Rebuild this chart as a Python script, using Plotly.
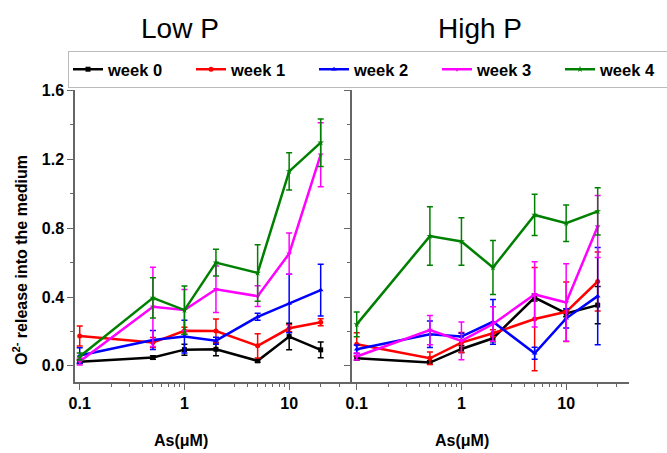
import plotly.graph_objects as go

# ---------------- data ----------------
as_conc = [0.1, 0.5, 1, 2, 5, 10, 20]
weeks = ["week 0", "week 1", "week 2", "week 3", "week 4"]
colors = ["#000000", "#ff0000", "#0000ff", "#ff00ff", "#008000"]
symbols = ["square", "circle", "triangle-up", "triangle-down", "star"]

# Low P
low_w0 = [0.024, 0.048, 0.094, 0.096, 0.029, 0.170, 0.093]
low_w1 = [0.173, 0.135, 0.204, 0.202, 0.116, 0.218, 0.253]
low_w2 = [0.060, 0.150, 0.170, 0.146, 0.285, 0.362, 0.440]
low_w3 = [0.025, 0.343, 0.324, 0.445, 0.405, 0.652, 1.227]
low_w4 = [0.054, 0.395, 0.324, 0.600, 0.540, 1.130, 1.297]
low_e0 = [0.010, 0.010, 0.032, 0.037, 0.008, 0.077, 0.046]
low_e1 = [0.058, 0.029, 0.020, 0.070, 0.070, 0.020, 0.020]
low_e2 = [0.045, 0.055, 0.095, 0.020, 0.020, 0.170, 0.150]
low_e3 = [0.020, 0.230, 0.120, 0.135, 0.060, 0.120, 0.186]
low_e4 = [0.020, 0.117, 0.140, 0.078, 0.164, 0.108, 0.138]

# High P
high_w0 = [0.044, 0.019, 0.098, 0.160, 0.397, 0.305, 0.353]
high_w1 = [0.125, 0.044, 0.135, 0.189, 0.272, 0.314, 0.490]
high_w2 = [0.096, 0.183, 0.170, 0.256, 0.073, 0.276, 0.405]
high_w3 = [0.054, 0.208, 0.145, 0.243, 0.415, 0.368, 0.810]
high_w4 = [0.241, 0.754, 0.723, 0.571, 0.877, 0.829, 0.898]
high_e0 = [0.010, 0.010, 0.020, 0.020, 0.020, 0.020, 0.108]
high_e1 = [0.067, 0.036, 0.058, 0.020, 0.300, 0.173, 0.172]
high_e2 = [0.025, 0.077, 0.020, 0.130, 0.035, 0.056, 0.283]
high_e3 = [0.020, 0.085, 0.110, 0.100, 0.190, 0.225, 0.180]
high_e4 = [0.072, 0.170, 0.138, 0.157, 0.120, 0.106, 0.137]

low_vals = [low_w0, low_w1, low_w2, low_w3, low_w4]
low_errs = [low_e0, low_e1, low_e2, low_e3, low_e4]
high_vals = [high_w0, high_w1, high_w2, high_w3, high_w4]
high_errs = [high_e0, high_e1, high_e2, high_e3, high_e4]

x_major = [0.1, 1, 10]
x_major_text = ["0.1", "1", "10"]
x_minor = [0.2, 0.3, 0.4, 0.5, 0.6, 0.7, 0.8, 0.9,
           2, 3, 4, 5, 6, 7, 8, 9, 20, 30]
y_ticks = [0.0, 0.4, 0.8, 1.2, 1.6]

# ---------------- figure ----------------
fig = go.Figure()
for i in range(5):
    for vals, errs, xa, ya, show in [
        (low_vals[i], low_errs[i], "x", "y", True),
        (high_vals[i], high_errs[i], "x2", "y2", False),
    ]:
        fig.add_trace(go.Scatter(
            x=as_conc, y=vals, xaxis=xa, yaxis=ya,
            mode="lines+markers", name=weeks[i], showlegend=show,
            legendgroup=weeks[i],
            line=dict(color=colors[i], width=2.5),
            marker=dict(color=colors[i], size=5, symbol=symbols[i]),
            error_y=dict(type="data", array=errs, visible=True,
                         color=colors[i], thickness=1.5, width=3),
        ))

axis_col = "#666666"
tickfont = dict(family="Liberation Sans, Arial, sans-serif", size=16,
                color="black", weight="bold")
xcommon = dict(type="log", range=[-1.045, 1.60], tickmode="array",
               tickvals=x_major, ticktext=x_major_text, ticks="outside",
               ticklen=6, tickwidth=1.2, tickcolor=axis_col,
               showline=True, linecolor=axis_col, linewidth=1.5,
               showgrid=False, zeroline=False, tickfont=tickfont,
               automargin=False,
               minor=dict(tickmode="array", tickvals=x_minor,
                          ticks="outside", ticklen=3, tickcolor=axis_col,
                          showgrid=False))
ycommon = dict(range=[-0.094, 1.603], tickmode="array", tickvals=y_ticks,
               tickformat=".1f", ticks="outside", ticklen=6, tickwidth=1.2,
               tickcolor=axis_col, showline=True, linecolor=axis_col,
               linewidth=1.5, showgrid=False, zeroline=False,
               tickfont=tickfont, automargin=False,
               minor=dict(dtick=0.2, tick0=0, ticks="outside", ticklen=3,
                          tickcolor=axis_col, showgrid=False))

fig.update_layout(
    width=667, height=453,
    margin=dict(l=75, r=38, t=90, b=71, autoexpand=False),
    paper_bgcolor="white", plot_bgcolor="white",
    font=dict(family="Liberation Sans, Arial, sans-serif", color="black"),
    xaxis=dict(domain=[0, 0.5], anchor="y", **xcommon),
    xaxis2=dict(domain=[0.5, 1], anchor="y2", **xcommon),
    yaxis=dict(domain=[0, 1], anchor="x", **ycommon),
    yaxis2=dict(domain=[0, 1], anchor="x2", showticklabels=False,
                **{k: v for k, v in ycommon.items() if k != "tickfont"}),
    legend=dict(orientation="h", x=(68 - 75) / 554, y=(382 - 51) / 292,
                xanchor="left", yanchor="top", bgcolor="white",
                bordercolor="#bbbbbb", borderwidth=1, entrywidth=78,
                entrywidthmode="pixels",
                font=dict(size=16.5, weight="bold", color="black",
                          family="Liberation Sans, Arial, sans-serif"),
                tracegroupgap=0, itemwidth=30),
    showlegend=True,
)

ann_font_title = dict(family="Liberation Sans, Arial, sans-serif", size=28,
                      color="black")
ann_font_axis = dict(family="Liberation Sans, Arial, sans-serif", size=16,
                     color="black", weight="bold")
fig.add_annotation(text="Low P", xref="paper", yref="paper",
                   x=(180 - 75) / 554, y=(382 - 29) / 292,
                   showarrow=False, font=ann_font_title,
                   xanchor="center", yanchor="middle")
fig.add_annotation(text="High P", xref="paper", yref="paper",
                   x=(480 - 75) / 554, y=(382 - 29) / 292,
                   showarrow=False, font=ann_font_title,
                   xanchor="center", yanchor="middle")
fig.add_annotation(text="As(μM)", xref="paper", yref="paper",
                   x=(181 - 75) / 554, y=(382 - 440) / 292,
                   showarrow=False, font=ann_font_axis,
                   xanchor="center", yanchor="middle")
fig.add_annotation(text="As(μM)", xref="paper", yref="paper",
                   x=(462 - 75) / 554, y=(382 - 440) / 292,
                   showarrow=False, font=ann_font_axis,
                   xanchor="center", yanchor="middle")
fig.add_annotation(text="O<sup>2-</sup> release into the medium",
                   xref="paper", yref="paper",
                   x=(20 - 75) / 554, y=(382 - 260) / 292,
                   textangle=-90, showarrow=False, font=ann_font_axis,
                   xanchor="center", yanchor="middle")

# remove the default page margin so the figure sits at the window's corner
fig.write_html("out.html",
               config={"displayModeBar": False},
               post_script="document.body.style.margin='0px';")
